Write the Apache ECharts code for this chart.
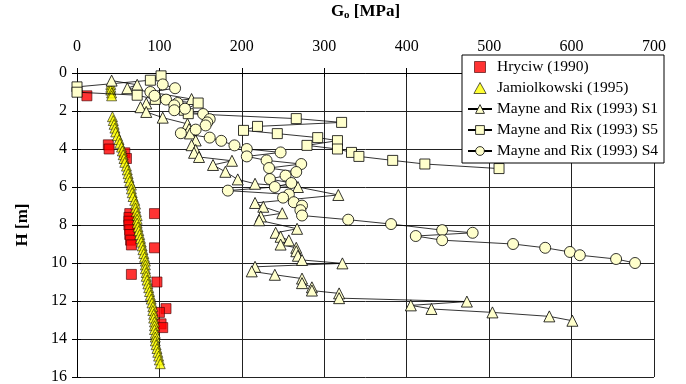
<!DOCTYPE html>
<html>
<head>
<meta charset="utf-8">
<script src="https://cdn.jsdelivr.net/npm/echarts@6/dist/echarts.min.js"></script>
<style>
  html, body { margin: 0; padding: 0; background: #fff; }
  #chart { width: 686px; height: 384px; }
</style>
</head>
<body>
<div id="chart"></div>
<script>
// [G0 (MPa), depth H (m)]
var hryciw = [[12, 1.2], [38, 3.78], [39, 4.0], [58, 4.2], [60, 4.5],
  [64, 7.4], [63, 7.6], [63, 7.8], [63, 8.0], [64, 8.25], [64, 8.5], [65, 8.8], [66, 9.05],
  [94, 7.4], [94, 9.2], [66, 10.6], [97, 11.0], [108, 12.4], [100, 12.6], [102, 13.2], [104, 13.4]]

var jamiolkowskiDepth = [0.6, 0.75, 0.9, 1.05, 1.2,
  2.3, 2.5, 2.7, 2.9, 3.1, 3.3, 3.5, 3.7, 3.9, 4.1, 4.3, 4.5, 4.7, 4.9, 5.1, 5.3, 5.5, 5.7, 5.9,
  6.1, 6.3, 6.5, 6.7, 6.9, 7.1, 7.3, 7.5, 7.7, 7.9, 8.1, 8.3, 8.5, 8.7, 8.9, 9.1, 9.3, 9.5, 9.7, 9.9,
  10.1, 10.3, 10.5, 10.7, 10.9, 11.1, 11.3, 11.5, 11.7, 11.9, 12.1, 12.3, 12.5, 12.7, 12.9,
  13.1, 13.3, 13.5, 13.7, 13.9, 14.1, 14.3, 14.5, 14.7, 14.9, 15.1, 15.3]
var jamiolkowskiG = [41, 41, 41, 42, 42,
  43, 44, 45, 46, 47, 49, 51, 52, 54, 55, 56, 57, 58, 60, 61, 62, 63, 64, 66,
  66, 67, 68, 70, 71, 71, 72, 73, 73, 73, 74, 75, 76, 77, 78, 79, 80, 81, 82, 83,
  83, 83, 84, 84, 85, 86, 87, 88, 89, 90, 91, 92, 92, 93, 93,
  94, 94, 94, 95, 95, 95, 96, 97, 98, 99, 100, 101]

var mayneS1 = [[42, 0.4], [73, 0.62], [61, 0.8], [139, 1.37], [84, 1.6], [77, 1.8], [84, 2.05], [104, 2.35],
  [134, 2.68], [136, 2.95], [137, 3.18], [144, 3.55], [139, 3.8], [144, 4.05], [142, 4.2], [148, 4.42],
  [188, 4.62], [165, 4.84], [180, 5.2], [195, 5.6], [216, 5.83], [268, 6.0], [317, 6.42], [216, 6.84],
  [226, 7.04], [249, 7.38], [223, 7.55], [221, 7.75], [267, 8.2], [241, 8.41], [247, 8.62], [257, 8.81],
  [247, 9.03], [266, 9.2], [266, 9.38], [268, 9.62], [273, 9.84], [322, 10.02], [216, 10.2], [212, 10.44],
  [240, 10.62], [273, 10.82], [273, 11.06], [285, 11.28], [285, 11.45], [318, 11.6], [318, 11.85],
  [473, 12.03], [405, 12.23], [430, 12.42], [504, 12.6], [573, 12.81], [601, 13.04]]

var mayneS5 = [[102, 0.15], [89, 0.38], [0, 0.73], [0, 1.01], [73, 1.17], [95, 1.39], [147, 1.58],
  [130, 1.96], [135, 2.14], [266, 2.4], [321, 2.6], [219, 2.81], [202, 3.02], [243, 3.19], [292, 3.4],
  [316, 3.56], [279, 3.81], [316, 4.0], [333, 4.18], [342, 4.39], [383, 4.6], [422, 4.79], [512, 5.03]]

var mayneS4 = [[104, 0.6], [119, 0.8], [89, 1.0], [94, 1.2], [108, 1.4], [122, 1.58], [118, 1.7], [131, 1.88],
  [118, 1.96], [153, 2.16], [161, 2.43], [158, 2.6], [156, 2.76], [144, 2.98], [126, 3.17], [161, 3.4],
  [175, 3.57], [191, 3.81], [206, 4.0], [247, 4.18], [206, 4.39], [230, 4.6], [272, 4.79], [233, 5.0],
  [266, 5.21], [253, 5.4], [234, 5.58], [260, 5.79], [240, 6.0], [183, 6.19], [257, 6.39], [250, 6.56],
  [263, 6.8], [273, 6.98], [271, 7.22], [273, 7.5], [329, 7.72], [381, 7.95], [443, 8.27], [480, 8.41],
  [411, 8.58], [443, 8.8], [529, 9.0], [568, 9.2], [598, 9.42], [610, 9.59], [654, 9.79], [677, 10.0]]

var chart = echarts.init(document.getElementById('chart'))

var font = 'Liberation Serif'
var cream = '#ffffcc'

function mayneSeries(name, data, symbol, size) {
  return {
    name: name,
    type: 'line',
    data: data,
    symbol: symbol,
    symbolSize: size,
    showAllSymbol: true,
    lineStyle: { color: '#000', width: 0.8 },
    itemStyle: { color: cream, borderColor: '#000', borderWidth: 0.8 }
  }
}

// second pair of axes only draws the inner half of the crossing tick marks
var innerX = {
  type: 'value', position: 'top', min: 0, max: 700, interval: 100,
  axisLine: { show: false }, axisLabel: { show: false }, splitLine: { show: false },
  axisTick: { inside: true, length: 4, lineStyle: { color: '#000' } }
}
var innerY = {
  type: 'value', position: 'left', inverse: true, min: 0, max: 16, interval: 2,
  axisLine: { show: false }, axisLabel: { show: false }, splitLine: { show: false },
  axisTick: { inside: true, length: 4, lineStyle: { color: '#000' } }
}

chart.setOption({
  animation: false,
  textStyle: { fontFamily: font, color: '#000' },
  grid: { left: 77, top: 73, right: 32, bottom: 7, outerBoundsMode: 'none' },
  legend: {
    orient: 'vertical',
    left: 462,
    top: 55,
    itemWidth: 24,
    itemHeight: 11,
    itemGap: 5,
    itemStyle: { borderWidth: 0.8 },
    padding: [4, 6, 4, 5],
    backgroundColor: '#fff',
    borderColor: '#000',
    borderWidth: 1,
    symbolKeepAspect: true,
    textStyle: { fontFamily: font, fontSize: 15.5, color: '#000' },
    data: [
      { name: 'Hryciw (1990)', icon: 'path://M0,0H10V10H0Z' },
      { name: 'Jamiolkowski (1995)', icon: 'path://M5,0L10,9H0Z' },
      'Mayne and Rix (1993) S1', 'Mayne and Rix (1993) S5', 'Mayne and Rix (1993) S4'
    ]
  },
  xAxis: [{
    type: 'value',
    position: 'top',
    min: 0,
    max: 700,
    interval: 100,
    name: '{b|G}{s|o}{b| [MPa]}',
    nameLocation: 'middle',
    nameGap: 52,
    nameTextStyle: {
      rich: {
        b: { fontFamily: font, fontSize: 17, fontWeight: 'bold', color: '#000' },
        s: { fontFamily: font, fontSize: 11, fontWeight: 'bold', color: '#000', verticalAlign: 'bottom', padding: [8, 0, 0, 0] }
      }
    },
    axisLine: { lineStyle: { color: '#000', width: 1 } },
    axisTick: { length: 5, lineStyle: { color: '#000' } },
    axisLabel: { fontSize: 16, margin: 18, color: '#000', fontFamily: font },
    splitLine: { lineStyle: { color: '#222', width: 1 } }
  }, innerX],
  yAxis: [{
    type: 'value',
    inverse: true,
    min: 0,
    max: 16,
    interval: 2,
    name: 'H [m]',
    nameLocation: 'middle',
    nameGap: 46,
    nameRotate: 90,
    nameTextStyle: { fontFamily: font, fontSize: 17, fontWeight: 'bold', color: '#000' },
    axisLine: { lineStyle: { color: '#000', width: 1 } },
    axisTick: { length: 5, lineStyle: { color: '#000' } },
    axisLabel: { fontSize: 16, margin: 10, color: '#000', fontFamily: font },
    splitLine: { lineStyle: { color: '#222', width: 1 } }
  }, innerY],
  series: [
    {
      name: 'Hryciw (1990)',
      type: 'scatter',
      data: hryciw,
      symbol: 'rect',
      symbolSize: 10,
      itemStyle: { color: '#ff0000', borderColor: '#400', borderWidth: 0.8 }
    },
    {
      name: 'Jamiolkowski (1995)',
      type: 'scatter',
      data: jamiolkowskiDepth.map(function (d, i) { return [jamiolkowskiG[i], d] }),
      symbol: 'triangle',
      symbolSize: 10,
      itemStyle: { color: '#ffff00', borderColor: '#000', borderWidth: 0.7 }
    },
    mayneSeries('Mayne and Rix (1993) S1', mayneS1, 'triangle', 11),
    mayneSeries('Mayne and Rix (1993) S5', mayneS5, 'rect', 10),
    mayneSeries('Mayne and Rix (1993) S4', mayneS4, 'circle', 11)
  ]
})
</script>
</body>
</html>
